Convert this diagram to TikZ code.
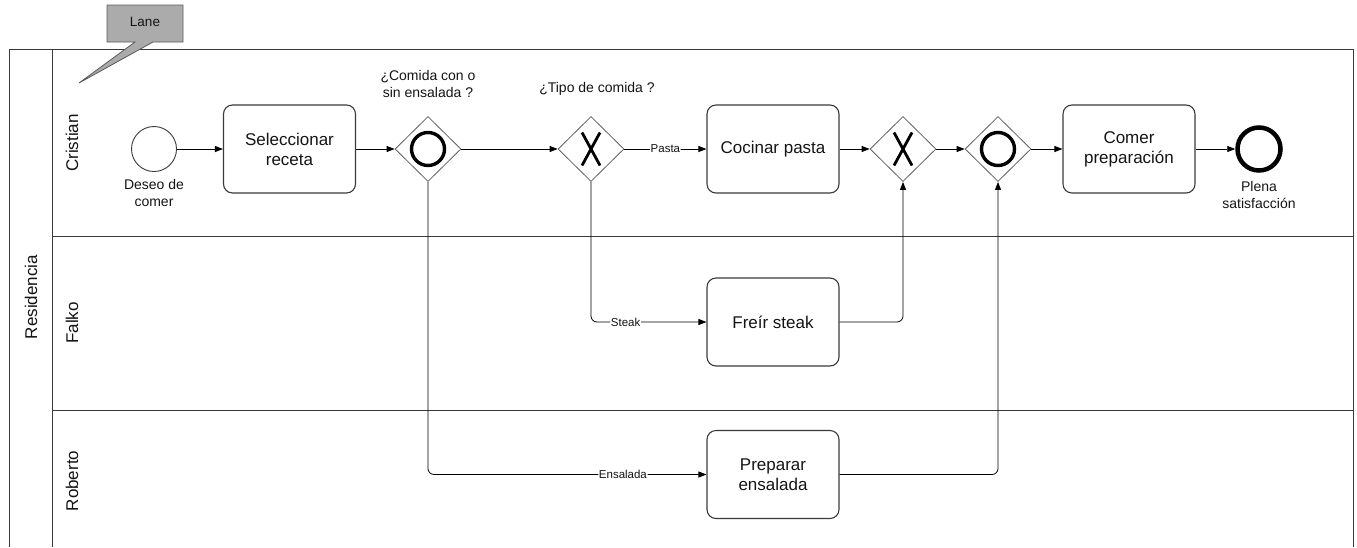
\documentclass[tikz,border=0pt]{standalone}
\usepackage{fontspec}
\setmainfont{Liberation Sans}
\usetikzlibrary{shapes.geometric,arrows.meta}
\definecolor{ln}{HTML}{3A3A3A}
\definecolor{calloutfill}{HTML}{ABABAB}
\definecolor{calloutedge}{HTML}{5A5A5A}
\definecolor{txt}{HTML}{141414}
\begin{document}
\begin{tikzpicture}[x=1pt,y={(0pt,-1pt)},
  every node/.style={text=txt},
  pool/.style={draw=ln, line width=1pt},
  lanelbl/.style={rotate=90, font=\fontsize{17}{19}\selectfont},
  task/.style={draw=ln, line width=1.1pt, rounded corners=9pt, minimum width=132pt, minimum height=88pt, align=center, inner sep=2pt, font=\fontsize{17}{20}\selectfont},
  gw/.style={diamond, draw=gray!75!black, line width=0.8pt, minimum width=66pt, minimum height=65pt, inner sep=0pt},
  orgw/.style={gw, path picture={\draw[line width=3.4pt, black] (path picture bounding box.center) circle[radius=16.5pt];}},
  xorgw/.style={gw, path picture={
     \draw[line width=2.8pt, black] ([shift={(-9pt,-16.5pt)}]path picture bounding box.center) -- ([shift={(9pt,16.5pt)}]path picture bounding box.center);
     \draw[line width=2.8pt, black] ([shift={(-9pt,16.5pt)}]path picture bounding box.center) -- ([shift={(9pt,-16.5pt)}]path picture bounding box.center);}},
  startev/.style={circle, draw=ln, line width=0.9pt, minimum size=45pt, inner sep=0pt},
  endev/.style={circle, draw=black, line width=4.5pt, minimum size=43pt, inner sep=0pt},
  evlbl/.style={align=center, font=\fontsize{14}{17}\selectfont},
  gwlbl/.style={align=center, font=\fontsize{14}{17}\selectfont},
  flow/.style={-{Triangle[length=8pt,width=6pt]}, draw=black, line width=0.8pt, rounded corners=6pt},
  lbl/.style={fill=white, inner sep=0.6pt, font=\fontsize{11.5}{13}\selectfont}
]
\useasboundingbox (0,0) rectangle (1357,547);

% pool and lanes
\draw[pool] (9,547) -- (9,49) -- (1353,49) -- (1353,547);
\draw[pool] (52,49) -- (52,547);
\draw[pool] (52,236) -- (1353,236);
\draw[pool] (52,410) -- (1353,410);
\node[lanelbl] (residencia) at (31,297) {Residencia};
\node[lanelbl] (cristian) at (72,143) {Cristian};
\node[lanelbl] (falko) at (72,323) {Falko};
\node[lanelbl] (roberto) at (72,481) {Roberto};

% Lane callout
\draw[fill=calloutfill, draw=calloutedge, line width=0.8pt]
  (107,5) -- (183,5) -- (183,42) -- (153,42) -- (79,83) -- (135,42) -- (107,42) -- cycle;
\node[font=\fontsize{13.5}{15}\selectfont] (lane) at (145,22) {Lane};

% Cristian lane
\node[startev] (start) at (154,149) {};
\node[evlbl] (startlbl) at (154,193) {Deseo de\\comer};
\node[task] (t1) at (289.5,149) {Seleccionar\\receta};
\node[orgw] (g1) at (428,149) {};
\node[gwlbl] (g1lbl) at (428,83.5) {¿Comida con o\\sin ensalada ?};
\node[xorgw] (g2) at (591,149) {};
\node[gwlbl] (g2lbl) at (597,89) {¿Tipo de comida ?};
\node[task] (t2) at (773,149) {Cocinar pasta};
\node[xorgw] (g3) at (903,149) {};
\node[orgw] (g4) at (998,149) {};
\node[task] (t4) at (1129,149) {Comer\\preparación};
\node[endev] (end) at (1259,149) {};
\node[evlbl] (endlbl) at (1259,195) {Plena\\satisfacción};

% Falko lane
\node[task] (fs) at (773,322) {Freír steak};

% Roberto lane
\node[task] (pe) at (773,474.5) {Preparar\\ensalada};

% flows
\draw[flow] (start) -- (t1);
\draw[flow] (t1) -- (g1);
\draw[flow] (g1) -- (g2);
\draw[flow] (g2) -- node[lbl] {Pasta} (t2);
\draw[flow] (t2) -- (g3);
\draw[flow] (g3) -- (g4);
\draw[flow] (g4) -- (t4);
\draw[flow] (t4) -- (end);
\draw[flow] (g2.south) |- node[lbl, pos=0.65] {Steak} (fs.west);
\draw[flow] (fs.east) -| (g3.south);
\draw[flow] (g1.south) |- node[lbl, pos=0.85] {Ensalada} (pe.west);
\draw[flow] (pe.east) -| (g4.south);
\end{tikzpicture}
\end{document}
